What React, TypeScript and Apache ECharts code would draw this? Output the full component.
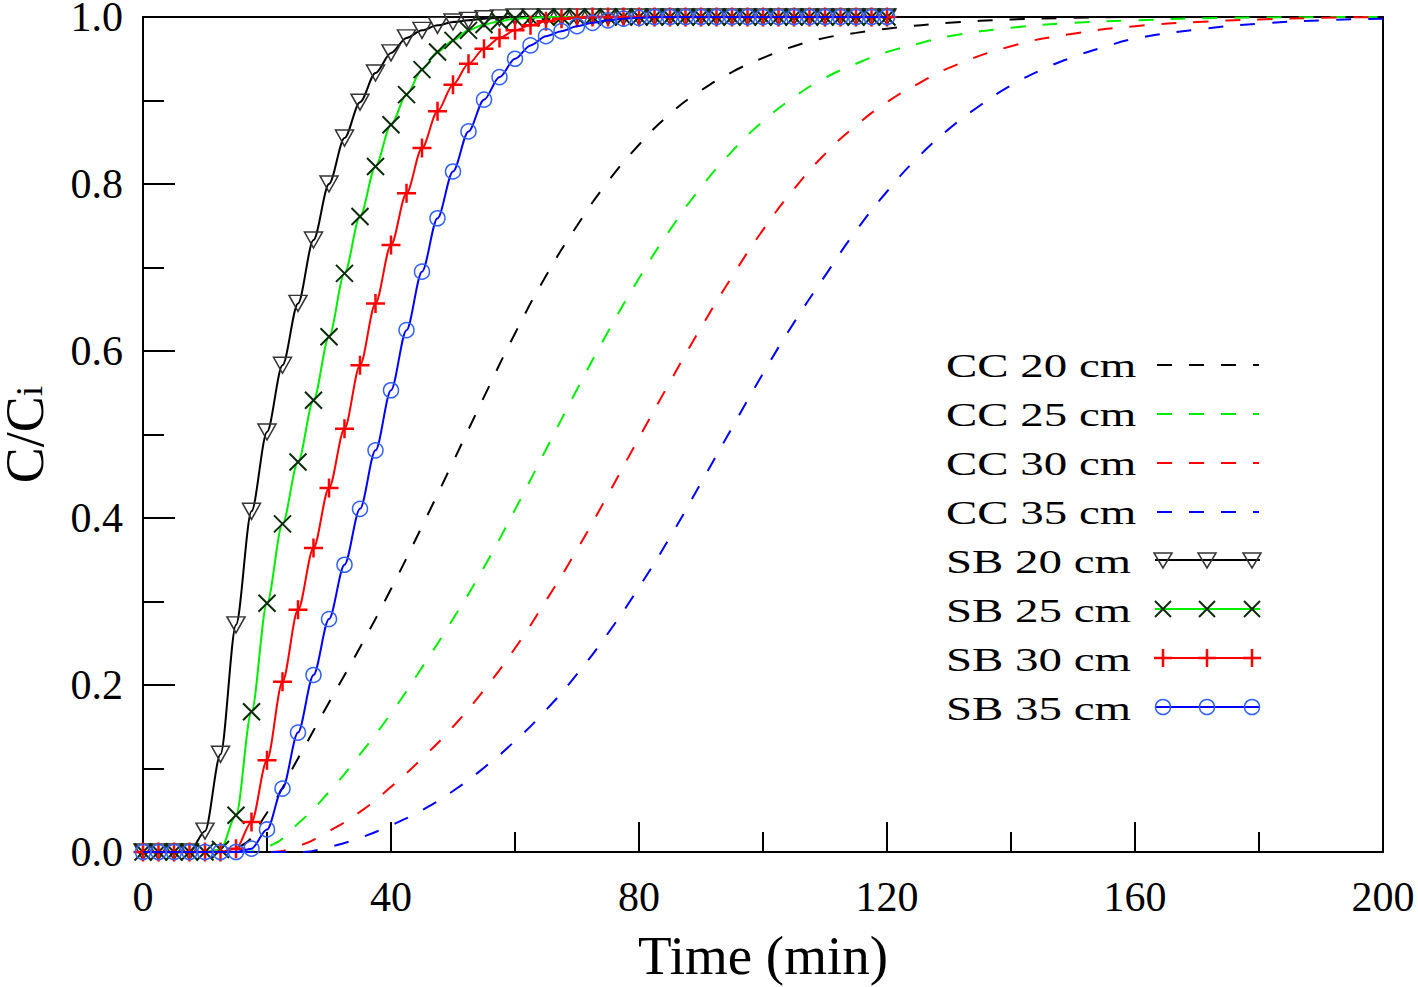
import React, { useEffect, useRef } from 'react';
import * as echarts from 'echarts';

const FONT = '"Liberation Serif", "Times New Roman", serif';

// x ticks / y ticks
const xTickLabels = [0, 40, 80, 120, 160, 200];
const yTickLabels = [0, 0.2, 0.4, 0.6, 0.8, 1.0];

// ---- SB (symbol) series: sampled every 2.5 min ----
const sbTime = [0, 2.5, 5, 7.5, 10, 12.5, 15, 17.5, 20, 22.5, 25, 27.5, 30, 32.5, 35, 37.5, 40, 42.5, 45, 47.5, 50, 52.5, 55, 57.5, 60, 62.5, 65, 67.5, 70, 72.5, 75, 77.5, 80, 82.5, 85, 87.5, 90, 92.5, 95, 97.5, 100, 102.5, 105, 107.5, 110, 112.5, 115, 117.5, 120];

const sb20 = [0, 0, 0, 0, 0.025, 0.117, 0.272, 0.408, 0.503, 0.583, 0.657, 0.733, 0.8, 0.855, 0.898, 0.933, 0.957, 0.975, 0.984, 0.99, 0.994, 0.996, 0.998, 0.999,
  1, 1, 1, 1, 1, 1, 1, 1, 1, 1, 1, 1, 1, 1, 1, 1, 1, 1, 1, 1, 1, 1, 1, 1, 1];
const sb25 = [0, 0, 0, 0, 0, 0.003, 0.044, 0.168, 0.298, 0.393, 0.467, 0.541, 0.617, 0.693, 0.761, 0.821, 0.871, 0.907, 0.937, 0.958, 0.972, 0.984, 0.991, 0.995, 0.998, 0.999,
  1, 1, 1, 1, 1, 1, 1, 1, 1, 1, 1, 1, 1, 1, 1, 1, 1, 1, 1, 1, 1, 1, 1];
const sb30 = [0, 0, 0, 0, 0, 0, 0.004, 0.036, 0.11, 0.204, 0.29, 0.364, 0.436, 0.507, 0.583, 0.657, 0.727, 0.789, 0.843, 0.887, 0.919, 0.944, 0.962, 0.975, 0.984, 0.99, 0.995, 0.998, 0.999,
  1, 1, 1, 1, 1, 1, 1, 1, 1, 1, 1, 1, 1, 1, 1, 1, 1, 1, 1, 1];
const sb35 = [0, 0, 0, 0, 0, 0, 0, 0.004, 0.027, 0.076, 0.143, 0.212, 0.279, 0.344, 0.411, 0.481, 0.553, 0.625, 0.695, 0.759, 0.815, 0.863, 0.901, 0.928, 0.95, 0.966, 0.977, 0.983, 0.989, 0.993, 0.996, 0.998, 0.999,
  1, 1, 1, 1, 1, 1, 1, 1, 1, 1, 1, 1, 1, 1, 1, 1];

// ---- CC (dashed) series ----
const cc20Time = [0, 10, 15, 20, 25, 30, 35, 40, 45, 50, 55, 60, 65, 70, 75, 80, 85, 90, 95, 100, 105, 110, 115, 120, 130, 140, 150, 160, 200];
const cc20 = [0, 0, 0.005, 0.047, 0.112, 0.179, 0.245, 0.315, 0.39, 0.467, 0.545, 0.621, 0.69, 0.75, 0.803, 0.847, 0.884, 0.912, 0.934, 0.951, 0.965, 0.975, 0.981, 0.986, 0.993, 0.997, 0.999, 1, 1];

const cc25Time = [0, 15, 20, 25, 30, 35, 40, 45, 50, 55, 60, 65, 70, 75, 80, 85, 90, 95, 100, 105, 110, 115, 120, 125, 130, 140, 150, 160, 175, 200];
const cc25 = [0, 0, 0.006, 0.034, 0.072, 0.117, 0.166, 0.221, 0.279, 0.341, 0.41, 0.482, 0.554, 0.623, 0.687, 0.745, 0.796, 0.839, 0.875, 0.904, 0.927, 0.944, 0.958, 0.968, 0.977, 0.987, 0.993, 0.996, 0.999, 1];

const cc30Time = [0, 20, 25, 30, 35, 40, 45, 50, 55, 60, 65, 70, 75, 80, 85, 90, 95, 100, 105, 110, 115, 120, 125, 130, 140, 150, 160, 170, 180, 190, 200];
const cc30 = [0, 0, 0.007, 0.025, 0.048, 0.078, 0.112, 0.15, 0.194, 0.244, 0.301, 0.362, 0.428, 0.496, 0.563, 0.628, 0.689, 0.745, 0.794, 0.836, 0.87, 0.898, 0.92, 0.939, 0.965, 0.98, 0.989, 0.994, 0.997, 0.999, 1];

const cc35Time = [0, 25, 30, 35, 40, 45, 50, 55, 60, 65, 70, 75, 80, 85, 90, 95, 100, 105, 110, 115, 120, 125, 130, 135, 140, 145, 150, 155, 160, 170, 180, 190, 200];
const cc35 = [0, 0, 0.006, 0.017, 0.032, 0.05, 0.073, 0.101, 0.133, 0.17, 0.213, 0.262, 0.317, 0.377, 0.442, 0.508, 0.573, 0.634, 0.69, 0.744, 0.791, 0.832, 0.866, 0.894, 0.918, 0.937, 0.952, 0.964, 0.974, 0.985, 0.992, 0.996, 0.998];

const ccNames = ['CC 20 cm', 'CC 25 cm', 'CC 30 cm', 'CC 35 cm'];
const sbNames = ['SB 20 cm', 'SB 25 cm', 'SB 30 cm', 'SB 35 cm'];
const lineColors = ['#000000', '#00ee00', '#ff0000', '#0000ff'];
const markerColors = ['#333333', '#0a2a0a', '#ff0000', '#3060ff'];

const zip = (t: number[], v: number[]) => t.map((x, i) => [x, v[i]]);

const ccData = [zip(cc20Time, cc20), zip(cc25Time, cc25), zip(cc30Time, cc30), zip(cc35Time, cc35)];
const sbData = [zip(sbTime, sb20), zip(sbTime, sb25), zip(sbTime, sb30), zip(sbTime, sb35)];

const DASH = [15, 17];

const sbSymbols: any[] = [
  { symbol: 'triangle', symbolSize: [18, 16], symbolRotate: 180 },
  { symbol: 'path://M0,0L16,16M16,0L0,16', symbolSize: 17 },
  { symbol: 'path://M8,0L8,16M0,8L16,8', symbolSize: 19 },
  { symbol: 'circle', symbolSize: 15 },
];

function buildLegend() {
  const els: any[] = [];
  const top = 365;
  const step = 49;
  const names = [...ccNames, ...sbNames];
  names.forEach((name, i) => {
    const y = top + step * i;
    els.push({
      type: 'text',
      x: 946,
      y,
      scaleX: 1.38,
      silent: true,
      style: { text: name, fontSize: 34, fontFamily: FONT, fill: '#000', align: 'left', verticalAlign: 'middle' },
    });
    const k = i % 4;
    if (i < 4) {
      els.push({
        type: 'line',
        silent: true,
        shape: { x1: 1157, y1: y, x2: 1259, y2: y },
        style: { stroke: lineColors[k], lineWidth: 2, lineDash: DASH },
      });
    } else {
      const ly = y - 1;
      els.push({
        type: 'line',
        silent: true,
        shape: { x1: 1155, y1: ly, x2: 1260, y2: ly },
        style: { stroke: lineColors[k], lineWidth: 2 },
      });
      [1163, 1207, 1252].forEach((cx) => {
        const mc = markerColors[k];
        if (k === 0) {
          els.push({
            type: 'polygon',
            silent: true,
            shape: { points: [[cx - 9, ly - 7], [cx + 9, ly - 7], [cx, ly + 8]] },
            style: { fill: 'none', stroke: mc, lineWidth: 1.5 },
          });
        } else if (k === 1) {
          els.push({ type: 'line', silent: true, shape: { x1: cx - 8, y1: ly - 8, x2: cx + 8, y2: ly + 8 }, style: { stroke: mc, lineWidth: 2 } });
          els.push({ type: 'line', silent: true, shape: { x1: cx + 8, y1: ly - 8, x2: cx - 8, y2: ly + 8 }, style: { stroke: mc, lineWidth: 2 } });
        } else if (k === 2) {
          els.push({ type: 'line', silent: true, shape: { x1: cx, y1: ly - 9, x2: cx, y2: ly + 9 }, style: { stroke: mc, lineWidth: 2.5 } });
          els.push({ type: 'line', silent: true, shape: { x1: cx - 9, y1: ly, x2: cx + 9, y2: ly }, style: { stroke: mc, lineWidth: 2.5 } });
        } else {
          els.push({ type: 'circle', silent: true, shape: { cx, cy: ly, r: 7.5 }, style: { fill: 'none', stroke: mc, lineWidth: 1.5 } });
        }
      });
    }
  });
  return els;
}

function buildOption(): any {
  const series: any[] = [];
  ccNames.forEach((name, k) => {
    series.push({
      type: 'line',
      name,
      data: ccData[k],
      symbol: 'none',
      showSymbol: false,
      smooth: 0.5,
      silent: true,
      z: 2,
      lineStyle: { color: lineColors[k], width: 2, type: DASH },
      itemStyle: { color: lineColors[k] },
    });
  });
  sbNames.forEach((name, k) => {
    series.push({
      type: 'line',
      name,
      data: sbData[k],
      ...sbSymbols[k],
      showAllSymbol: true,
      smooth: 0.3,
      smoothMonotone: 'x',
      silent: true,
      z: 3 + k,
      lineStyle: { color: lineColors[k], width: 2 },
      itemStyle: {
        color: 'rgba(0,0,0,0)',
        borderColor: markerColors[k],
        borderWidth: k === 2 ? 2.5 : k === 1 ? 2 : 1.5,
      },
    });
  });

  return {
    animation: false,
    backgroundColor: '#ffffff',
    grid: {
      left: 143,
      right: 35,
      top: 17,
      bottom: 135,
      containLabel: false,
      outerBoundsMode: 'none',
      show: true,
      borderColor: '#000',
      borderWidth: 2,
    },
    xAxis: {
      type: 'value',
      min: xTickLabels[0],
      max: xTickLabels[xTickLabels.length - 1],
      interval: 40,
      axisLine: { show: true, onZero: false, lineStyle: { color: '#000', width: 2 } },
      axisTick: { show: true, inside: true, length: 30, lineStyle: { color: '#000', width: 2 } },
      minorTick: { show: true, splitNumber: 2, length: 20, lineStyle: { color: '#000', width: 2 } },
      splitLine: { show: false },
      minorSplitLine: { show: false },
      axisLabel: { color: '#000', fontSize: 42, fontFamily: FONT, margin: 24 },
      name: 'Time (min)',
      nameLocation: 'middle',
      nameGap: 76,
      nameTextStyle: { color: '#000', fontSize: 55, fontFamily: FONT },
    },
    yAxis: {
      type: 'value',
      min: yTickLabels[0],
      max: yTickLabels[yTickLabels.length - 1],
      interval: 0.2,
      axisLine: { show: true, onZero: false, lineStyle: { color: '#000', width: 2 } },
      axisTick: { show: true, inside: true, length: 32, lineStyle: { color: '#000', width: 2 } },
      minorTick: { show: true, splitNumber: 2, length: 21, lineStyle: { color: '#000', width: 2 } },
      splitLine: { show: false },
      minorSplitLine: { show: false },
      axisLabel: {
        color: '#000',
        fontSize: 42,
        lineHeight: 32,
        fontFamily: FONT,
        margin: 20,
        formatter: (v: number) => v.toFixed(1),
      },
      name: '{a|C/C}{b|i}',
      nameLocation: 'middle',
      nameRotate: 90,
      nameGap: 95,
      nameTextStyle: {
        color: '#000',
        rich: {
          a: { fontSize: 54, fontFamily: FONT, color: '#000', lineHeight: 46 },
          b: { fontSize: 38, fontFamily: FONT, color: '#000', lineHeight: 18, verticalAlign: 'bottom' },
        },
      },
    },
    legend: { show: false },
    tooltip: { show: false },
    graphic: buildLegend(),
    series,
  };
}

export default function App() {
  const ref = useRef<HTMLDivElement>(null);
  useEffect(() => {
    if (!ref.current) return;
    const chart = echarts.init(ref.current, null, { renderer: 'svg' });
    chart.setOption(buildOption());
    return () => chart.dispose();
  }, []);
  return (
    <div
      ref={ref}
      style={{ position: 'absolute', left: 0, top: 0, width: 1418, height: 987, background: '#fff' }}
    />
  );
}
